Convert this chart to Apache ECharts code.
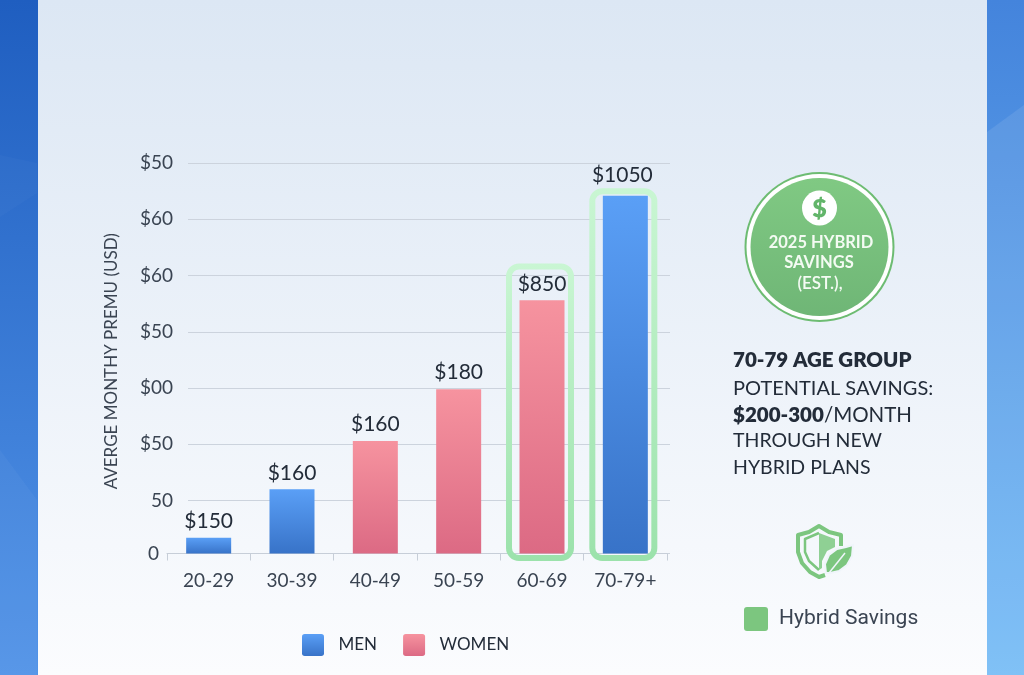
<!DOCTYPE html>
<html>
<head>
<meta charset="utf-8">
<title>Average monthly premium</title>
<style>
  html, body { margin: 0; padding: 0; background: #eef3fb; }
  #chart { width: 1024px; height: 675px; }
</style>
<script src="https://cdn.jsdelivr.net/npm/echarts@6/dist/echarts.min.js"></script>
</head>
<body>
<div id="chart"></div>
<script>
// bar heights as measured on the picture, in axis units; the printed labels do not follow them
const categories = ['20-29', '30-39', '40-49', '50-59', '60-69', '70-79+'];
const menValues = [14, 57, null, null, null, 318];
const womenValues = [null, null, 100, 146, 225, null];
const priceLabels = ['$150', '$160', '$160', '$180', '$850', '$1050'];
const tickValues = [0, 47, 97, 147, 197, 247, 297, 347];
const tickLabels = ['0', '50', '$50', '$00', '$50', '$60', '$60', '$50'];
const highlightCategories = [4, 5];
const highlightTops = [255, 322];
const highlightBottom = -4;

const font = 'Lato, "Open Sans", sans-serif';
const ink = '#3a4452';
const dark = '#232c39';
const green = '#7cc67f';
const softSquare = 'path://M3 0H21Q24 0 24 3V21Q24 24 21 24H3Q0 24 0 21V3Q0 0 3 0Z';

const grad = (top, bottom) => ({
  type: 'linear', x: 0, y: 0, x2: 0, y2: 1,
  colorStops: [{offset: 0, color: top}, {offset: 1, color: bottom}]
});

const chart = echarts.init(document.getElementById('chart'), null, {renderer: 'canvas'});

function renderFrame(params, api) {
  const top = api.coord([api.value(0), api.value(1)]);
  const bottom = api.coord([api.value(0), highlightBottom]);
  const w = 62;
  return {
    type: 'rect',
    shape: {x: top[0] - w / 2 - 2, y: top[1], width: w, height: bottom[1] - top[1], r: 10},
    style: {fill: 'none', stroke: grad('#c9f6d3', '#9be2ab'), lineWidth: 6}
  };
}

const barLabel = {
  show: true,
  position: 'top',
  distance: 6,
  color: dark,
  fontFamily: font,
  fontSize: 21,
  formatter: p => priceLabels[p.dataIndex]
};

const sideShapes = [
  // panel and side bands
  {type: 'rect', z: -20, shape: {x: 0, y: 0, width: 38, height: 675}, style: {fill: grad('#1f5ec0', '#5294e8')}},
  {type: 'rect', z: -20, shape: {x: 987, y: 0, width: 37, height: 675}, style: {fill: grad('#4484dc', '#74bbf6')}},
  {type: 'rect', z: -20, shape: {x: 38, y: 0, width: 949, height: 675}, style: {fill: grad('#dce7f4', '#fbfcfe')}},
  {type: 'polygon', z: -19, shape: {points: [[0, 217], [37, 193], [37, 163], [0, 155]]}, style: {fill: 'rgba(255,255,255,0.025)'}},
  {type: 'polygon', z: -19, shape: {points: [[0, 450], [37, 500], [37, 675], [0, 675]]}, style: {fill: 'rgba(255,255,255,0.035)'}},
  {type: 'polygon', z: -19, shape: {points: [[987, 132], [1024, 105], [1024, 675], [987, 675]]}, style: {fill: 'rgba(255,255,255,0.09)'}}
];

const badge = [
  {type: 'circle', shape: {cx: 819.5, cy: 247, r: 75}, style: {fill: '#6dbc72'}},
  {type: 'circle', shape: {cx: 819.5, cy: 247, r: 73}, style: {fill: '#ffffff'}},
  {type: 'circle', shape: {cx: 819.5, cy: 247, r: 69}, style: {fill: grad('#80c983', '#6fb676')}},
  {type: 'circle', shape: {cx: 819.5, cy: 208, r: 17.5}, style: {fill: '#ffffff'}},
  {type: 'text', x: 819.5, y: 209, style: {text: '$', fill: '#62b56a', font: '800 25px ' + font, align: 'center', verticalAlign: 'middle'}},
  {type: 'text', x: 821, y: 243, style: {text: '2025 HYBRID', fill: '#f4fbf3', font: '700 16.5px ' + font, align: 'center', verticalAlign: 'middle'}},
  {type: 'text', x: 819, y: 263, style: {text: 'SAVINGS', fill: '#f4fbf3', font: '700 16.5px ' + font, align: 'center', verticalAlign: 'middle'}},
  {type: 'text', x: 820, y: 284, style: {text: '(EST.),', fill: '#f4fbf3', font: '600 17px ' + font, align: 'center', verticalAlign: 'middle'}}
];

const note = [
  {type: 'text', x: 733, y: 360, style: {text: '70-79 AGE GROUP', fill: dark, font: '800 20.5px ' + font, verticalAlign: 'middle'}},
  {type: 'text', x: 733, y: 389, style: {text: 'POTENTIAL SAVINGS:', fill: dark, font: '400 20px ' + font, verticalAlign: 'middle'}},
  {type: 'text', x: 733, y: 415, style: {
    text: '{b|$200-300}{r|/MONTH}', verticalAlign: 'middle',
    rich: {
      b: {fill: dark, font: '800 20.5px ' + font},
      r: {fill: dark, font: '400 20.5px ' + font}
    }
  }},
  {type: 'text', x: 733, y: 441, style: {text: 'THROUGH NEW', fill: dark, font: '400 19.5px ' + font, verticalAlign: 'middle'}},
  {type: 'text', x: 733, y: 468, style: {text: 'HYBRID PLANS', fill: dark, font: '400 19.5px ' + font, verticalAlign: 'middle'}}
];

const shield = [
  {type: 'polyline', shape: {points: [[825, 575], [819, 577], [810, 572], [802, 563], [798, 552], [798, 535], [809, 532], [819, 526], [829, 532], [841, 535], [841, 546]]},
    style: {fill: 'none', stroke: green, lineWidth: 4, lineJoin: 'round'}},
  {type: 'polyline', shape: {points: [[819, 533], [805, 539], [805, 552], [809, 561], [819, 570]]},
    style: {fill: 'none', stroke: green, lineWidth: 2.5, lineJoin: 'round'}},
  {type: 'polygon', shape: {points: [[819, 533], [835, 539], [835, 547], [827, 551], [822, 561], [822, 568], [819, 570]]},
    style: {fill: '#8fd094'}},
  {type: 'polygon', shape: {points: [[853, 545], [852, 556], [847, 565], [839, 571], [830, 573], [826, 573], [825, 564], [829, 555], [837, 549], [846, 547]]},
    style: {fill: green, stroke: '#f0f5fb', lineWidth: 2}},
  {type: 'line', shape: {x1: 829, y1: 573, x2: 845, y2: 553}, style: {stroke: '#f0f5fb', lineWidth: 1.5}}
];

chart.setOption({
  animation: false,
  backgroundColor: 'transparent',
  graphic: {elements: [...sideShapes, ...badge, ...note, ...shield]},
  legend: [
    {
      data: ['MEN', 'WOMEN'],
      left: 302, top: 634,
      padding: 0,
      icon: softSquare,
      itemWidth: 23, itemHeight: 22, itemGap: 26,
      selectedMode: false,
      textStyle: {color: dark, fontFamily: font, fontSize: 17, padding: [0, 0, 0, 9]}
    },
    {
      data: ['Hybrid Savings'],
      left: 744, top: 607,
      padding: 0,
      icon: softSquare,
      itemWidth: 24, itemHeight: 24,
      selectedMode: false,
      textStyle: {color: ink, fontFamily: 'Roboto, sans-serif', fontSize: 21, padding: [0, 0, 0, 6]}
    }
  ],
  grid: [
    // gridlines start right of the baseline, so they get their own grid
    {left: 188, width: 482, top: 163, height: 390.5},
    {left: 167, width: 500, top: 163, height: 390.5}
  ],
  xAxis: [
    {gridIndex: 0, type: 'value', show: false, min: 0, max: 1},
    {
      gridIndex: 1,
      type: 'category',
      data: categories,
      axisLine: {lineStyle: {color: '#c7ced8'}},
      axisTick: {show: true, length: 7, lineStyle: {color: '#c7ced8'}},
      axisLabel: {color: ink, fontFamily: font, fontSize: 19, margin: 18}
    }
  ],
  yAxis: [
    {
      gridIndex: 0,
      type: 'value',
      min: 0,
      max: 347,
      name: 'AVERGE MONTHY PREMU (USD)',
      nameLocation: 'middle',
      nameGap: 68,
      nameTextStyle: {color: ink, fontFamily: font, fontSize: 17, padding: [0, 6, 0, 0]},
      axisLine: {show: false},
      axisTick: {show: false, customValues: tickValues},
      splitLine: {lineStyle: {color: '#ccd3dd', width: 1}},
      axisLabel: {
        customValues: tickValues,
        color: ink,
        fontFamily: font,
        fontSize: 19,
        margin: 15,
        formatter: v => {
          const label = tickLabels[tickValues.indexOf(v)];
          return label === '0' ? '{zero|0}' : label;
        },
        rich: {zero: {color: ink, fontFamily: font, fontSize: 19, padding: [0, 14, 0, 0]}}
      }
    },
    {gridIndex: 1, type: 'value', min: 0, max: 347, show: false}
  ],
  series: [
    {
      name: 'MEN',
      type: 'bar',
      xAxisIndex: 1,
      yAxisIndex: 1,
      z: 3,
      barWidth: 45,
      barGap: '-100%',
      // the tallest bar's label sits higher, clear of the green frame
      data: menValues.map((v, i) => i === 5 ? {value: v, label: {distance: 10, offset: [-3, 0]}} : v),
      itemStyle: {color: grad('#5a9ff6', '#3873c8')},
      label: barLabel
    },
    {
      name: 'WOMEN',
      type: 'bar',
      xAxisIndex: 1,
      yAxisIndex: 1,
      z: 3,
      barWidth: 45,
      data: womenValues,
      itemStyle: {color: grad('#f6939f', '#dc6a84')},
      label: barLabel
    },
    {
      name: 'Hybrid Savings',
      type: 'custom',
      xAxisIndex: 1,
      yAxisIndex: 1,
      z: 2,
      clip: false,
      itemStyle: {color: green},
      renderItem: renderFrame,
      data: highlightCategories.map((c, i) => [c, highlightTops[i]])
    }
  ]
});
</script>
</body>
</html>
